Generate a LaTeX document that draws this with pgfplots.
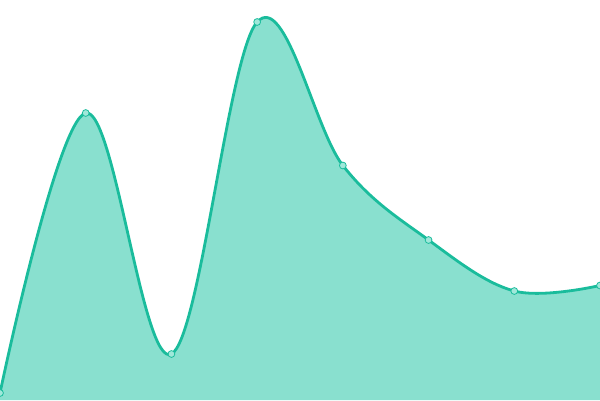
\documentclass[border=0pt]{standalone}
\usepackage{pgfplots}
\pgfplotsset{compat=1.18}
\definecolor{lineteal}{HTML}{1ABC9C}
\definecolor{fillteal}{HTML}{89E0CF}
\definecolor{markfill}{HTML}{A0E8DA}
\begin{document}
\begin{tikzpicture}
\begin{axis}[
  scale only axis,
  width=600pt, height=400pt,
  xmin=0, xmax=7, ymin=0, ymax=400,
  hide axis,
  clip=true,
]
\addplot[draw=none, fill=fillteal, smooth, tension=0.6] coordinates {
  (0,7) (1,287) (2,46) (3,378) (4,234.5) (5,160) (6,109) (7,114.5)
} \closedcycle;
\addplot[lineteal, line width=2.8pt, smooth, tension=0.6,
  mark=*, mark size=3.4pt,
  mark options={fill=markfill, draw=lineteal, line width=0.8pt}] coordinates {
  (0,7) (1,287) (2,46) (3,378) (4,234.5) (5,160) (6,109) (7,114.5)
};
\end{axis}
\pgfresetboundingbox
\useasboundingbox (current axis.south west) rectangle (current axis.north east);
\end{tikzpicture}
\end{document}
